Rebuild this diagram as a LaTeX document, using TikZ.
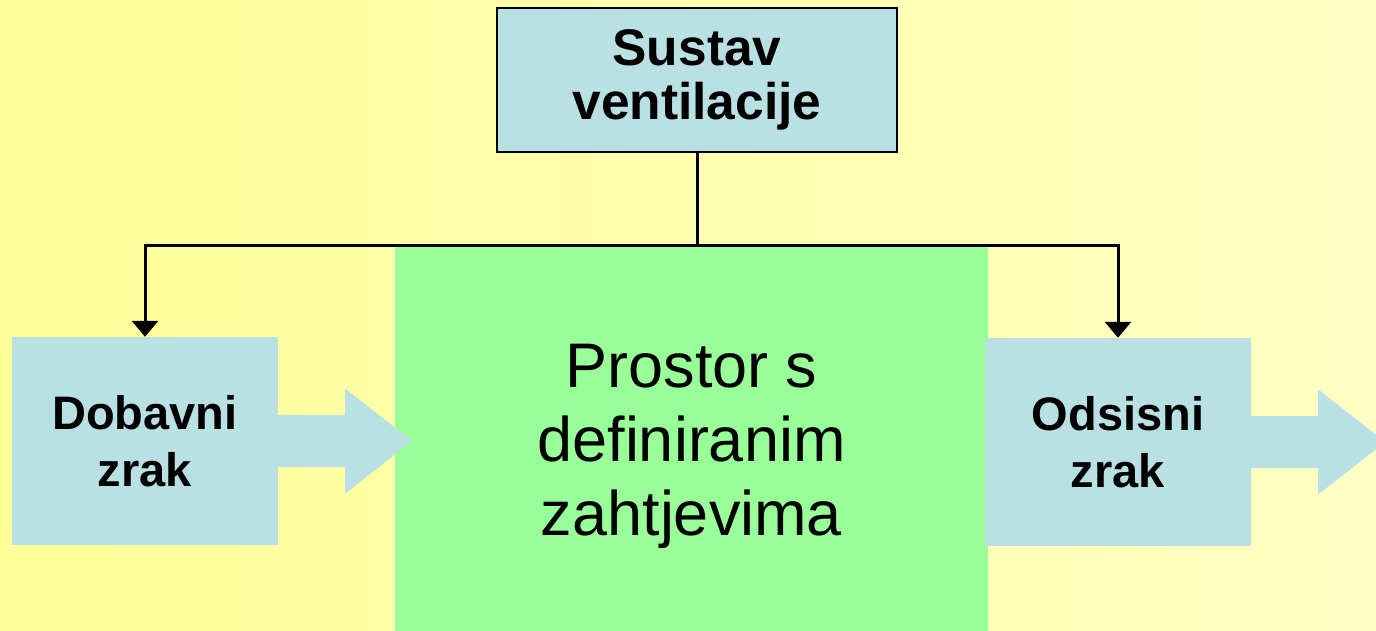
\documentclass[tikz,border=0pt]{standalone}
\usepackage{fontspec}
\setmainfont{Liberation Sans}
\usetikzlibrary{arrows.meta}
\definecolor{bgleft}{RGB}{255,255,153}
\definecolor{bgright}{RGB}{255,255,196}
\definecolor{boxblue}{RGB}{185,224,227}
\definecolor{roomgreen}{RGB}{153,255,153}
\tikzset{
  bluebox/.style={fill=boxblue, draw=none, inner sep=0pt, align=center,
    font=\bfseries\fontsize{47}{57}\selectfont},
  topbox/.style={fill=boxblue, draw=black, line width=2.5pt, inner sep=0pt, align=center,
    font=\bfseries\fontsize{51.5}{54}\selectfont},
  roombox/.style={fill=roomgreen, draw=none, inner sep=0pt, align=center,
    font=\fontsize{63}{74}\selectfont},
  flowarrow/.style={fill=boxblue, draw=none},
  connector/.style={line width=3pt, draw=black, -{Triangle[length=16pt,width=26pt]}},
  plainline/.style={line width=3pt, draw=black}
}
\begin{document}
\begin{tikzpicture}[x=1pt,y=-1pt]
\clip (0,0) rectangle (1376,631);
\shade[left color=bgleft, right color=bgright] (0,0) rectangle (1376,631);

% central room
\node[roombox, minimum width=593pt, minimum height=399pt] (room) at (691.5,446.5)
  {Prostor s\\definiranim\\zahtjevima};

% top system box
\node[topbox, minimum width=400pt, minimum height=144pt] (sys) at (697,80)
  {Sustav\\ventilacije};

% supply and exhaust boxes
\node[bluebox, minimum width=266pt, minimum height=208pt] (dob) at (145,441)
  {Dobavni\\zrak};
\node[bluebox, minimum width=266pt, minimum height=208pt] (ods) at (1118,442)
  {Odsisni\\zrak};

% block arrows
\fill[flowarrow] (dob.east) ++(0,-26) -- ++(67,0) -- ++(0,-26.5) -- ++(67,52.5)
  -- ++(-67,52.5) -- ++(0,-26.5) -- ++(-67,0) -- cycle;
\fill[flowarrow] (ods.east) ++(0,-26) -- ++(67,0) -- ++(0,-26.5) -- ++(67,52.5)
  -- ++(-67,52.5) -- ++(0,-26.5) -- ++(-67,0) -- cycle;

% connectors
\coordinate (junc) at (697,245);
\draw[plainline] (sys.south) -- (junc);
\draw[connector] (junc) -| (dob.north);
\draw[connector] (junc) -| (ods.north);
\end{tikzpicture}
\end{document}
